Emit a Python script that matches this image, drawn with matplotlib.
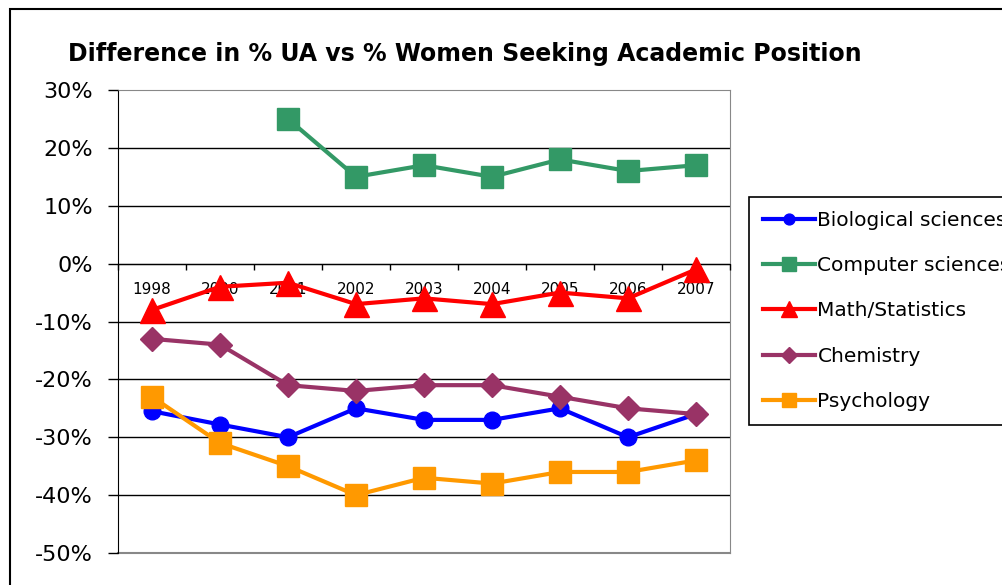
import numpy as np
import matplotlib
matplotlib.use("Agg")
import matplotlib.pyplot as plt
from matplotlib.patches import Rectangle

plt.rcParams["font.family"] = ["DejaVu Sans"]

years = ["1998", "2000", "2001", "2002", "2003", "2004", "2005", "2006", "2007"]
biological = [-25.5, -27.8, -30, -25, -27, -27, -25, -30, -26]
computer = [np.nan, np.nan, 25, 15, 17, 15, 18, 16, 17]
math_stats = [-8, -4, -3.3, -7, -6, -7, -5, -6, -1]
chemistry = [-13, -14, -21, -22, -21, -21, -23, -25, -26]
psychology = [-23, -31, -35, -40, -37, -38, -36, -36, -34]

series = [
    ("Biological sciences", biological, "#0000FF", "o", 12),
    ("Computer sciences", computer, "#339966", "s", 16.5),
    ("Math/Statistics", math_stats, "#FF0000", "^", 18),
    ("Chemistry", chemistry, "#993366", "D", 12),
    ("Psychology", psychology, "#FF9900", "s", 16.5),
]

W, H = 1003, 585
fig = plt.figure(figsize=(W / 100, H / 100), dpi=100)

# outer chart border (cut off at right and bottom)
fig.patches.append(Rectangle((10 / W, -0.1), 2, 1.1 - 9 / H, transform=fig.transFigure,
                             fill=False, edgecolor="black", linewidth=1.5))

ax = fig.add_axes([118 / W, 1 - 553 / H, 612 / W, 463 / H])
x = np.arange(len(years)) + 0.5

for name, vals, color, marker, ms in series:
    ax.plot(x, vals, color=color, marker=marker, markersize=ms, linewidth=3,
            label=name, zorder=3)

ax.set_xlim(0, len(years))
ax.set_ylim(-50, 30)

# horizontal gridlines
for v in range(-40, 30, 10):
    ax.axhline(v, color="black", linewidth=1, zorder=1)

ax.set_yticks(range(-50, 31, 10))
ax.set_yticklabels([f"{v}%" for v in range(-50, 31, 10)], fontsize=16)
ax.tick_params(axis="y", direction="out", length=7, width=1, pad=11)

# category axis sits at 0%
ax.spines["bottom"].set_position(("data", 0))
ax.spines["bottom"].set_color("black")
ax.set_xticks(range(len(years) + 1))
ax.set_xticklabels([])
ax.set_xticks(x, minor=True)
ax.set_xticklabels(years, minor=True, fontsize=11)
ax.tick_params(axis="x", which="major", direction="out", length=4, width=1)
ax.tick_params(axis="x", which="minor", length=0, pad=13)
ax.set_axisbelow(False)

for s in ["top", "right"]:
    ax.spines[s].set_color("#888888")
ax.axhline(-50, color="#888888", linewidth=1.5, zorder=1, clip_on=False)

fig.text(68 / W, 1 - 54 / H, "Difference in % UA vs % Women Seeking Academic Position",
         fontsize=17, fontweight="bold", va="center", ha="left")

leg = fig.legend(loc="upper left", bbox_to_anchor=(749 / W, 1 - 197 / H),
                 bbox_transform=fig.transFigure, fontsize=14.5, frameon=True,
                 fancybox=False, edgecolor="black", framealpha=1,
                 handlelength=2.6, handletextpad=0.1, labelspacing=1.3,
                 borderpad=0.7, borderaxespad=0, markerscale=0.65)
leg.get_frame().set_linewidth(1.2)

fig.savefig("out.png", dpi=100)
